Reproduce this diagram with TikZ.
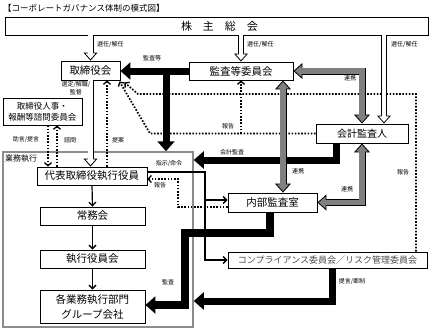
\documentclass[tikz,border=0pt]{standalone}
\usepackage{fontspec}
\setmainfont{Noto Sans CJK JP}
\usetikzlibrary{arrows.meta,calc}
\definecolor{hatch}{gray}{0.5}
\tikzset{
  htip/.tip={Triangle[width=14pt,length=8pt,fill=white,color=black,line width=0.8pt]},
  gtip/.tip={Triangle[width=16pt,length=9pt,fill=hatch,color=black,line width=0.8pt]},
  box/.style={draw, line width=0.9pt, fill=white, inner sep=0pt, align=center, font=\fontsize{10.5}{12}\selectfont},
  lbl/.style={font=\fontsize{6}{7.5}\selectfont, inner sep=0pt, align=center},
  hollowarr/.style={line width=6pt, draw=black, -htip,
     postaction={draw=white, line width=4.2pt, arrows=-, shorten >=5.5pt}},
  grayarr/.style={line width=7pt, draw=black, gtip-gtip,
     postaction={draw=hatch, line width=5.2pt, arrows=-, shorten >=6pt, shorten <=6pt}},
  blk/.style={line width=7pt, draw=black, -{Triangle[width=17pt,length=10pt]}},
  thinarr/.style={line width=1.2pt, -{Straight Barb[length=3.5pt,width=7pt,line width=1.3pt]}},
  dotarr/.style={line width=1.7pt, dash pattern=on 1.6pt off 1.6pt, -{Straight Barb[length=3pt,width=7pt,line width=1.3pt]}},
}
\begin{document}
\begin{tikzpicture}[x=1pt,y=-1pt]
\useasboundingbox (0,0) rectangle (440,330);
\node[anchor=west, font=\fontsize{8.5}{10}\selectfont, inner sep=0pt] (title) at (3,8) {【コーポレートガバナンス体制の模式図】};

% frame
\node[draw=black!45, line width=1.5pt, minimum width=190pt, minimum height=175pt, inner sep=0pt] (exec) at (98,239.5) {};
\node[anchor=west, font=\fontsize{8}{9}\selectfont, inner sep=0pt] (gyomu) at (5,159) {業務執行};

% boxes
\node[box, minimum width=423pt, minimum height=18pt, font=\fontsize{11}{12}\selectfont] (agm) at (216.5,26) {\hspace{6pt}株\hspace{1em}主\hspace{1em}総\hspace{1em}会};
\node[box, minimum width=59pt, minimum height=19pt] (bod) at (90.5,70.5) {取締役会};
\node[box, minimum width=104pt, minimum height=18pt] (ac) at (241,71) {監査等委員会};
\node[box, minimum width=79pt, minimum height=27pt, font=\fontsize{8.5}{11}\selectfont] (nc) at (42.5,111.5) {取締役人事・\\報酬等諮問委員会};
\node[box, minimum width=92pt, minimum height=19pt, font=\fontsize{10}{12}\selectfont] (aud) at (362,133.5) {会計監査人};
\node[box, minimum width=89pt, minimum height=19pt] (ia) at (272.5,202.5) {内部監査室};
\node[box, minimum width=110pt, minimum height=18pt] (ceo) at (92,176) {代表取締役執行役員};
\node[box, minimum width=105pt, minimum height=18pt] (jm) at (92.5,216) {常務会};
\node[box, minimum width=105pt, minimum height=18pt] (eo) at (92.5,259) {執行役員会};
\node[box, minimum width=105pt, minimum height=33pt, font=\fontsize{10.5}{15}\selectfont] (bu) at (92.5,306.5) {各業務執行部門\\グループ会社};
\node[box, minimum width=199pt, minimum height=16pt, font=\fontsize{9}{10}\selectfont, text=black!70] (cr) at (327.5,260) {コンプライアンス委員会／リスク管理委員会};

% coordinates
\coordinate (h3) at ([xshift=22pt]aud.north);
\coordinate (j1) at (166,71);
\coordinate (k1) at (336,160);
\coordinate (d1) at (150,133.5);
\coordinate (d2) at (416,94);
\coordinate (d3) at (138,94);
\coordinate (e1) at ([xshift=-1pt,yshift=-1pt]bod.south east);
\coordinate (e2) at ([xshift=4pt,yshift=-2pt]bod.south east);
\coordinate (t1) at (205,172);
\coordinate (t2) at ([yshift=2.5pt]ia.west);
\coordinate (r1) at ([yshift=-4.5pt]ia.west);
\coordinate (d4) at (178,179);
\coordinate (m1) at (185,233);
\coordinate (m2) at (185,305);
\coordinate (p1) at (332,301);

% dotted
\draw[dotarr] (aud.west) -- (d1) -- (e1);
\draw[dotarr] (aud.west -| ac.south) -- (ac.south);
\draw[dotarr] (cr.north -| d2) -- (d2) -- (d3) -- (e2);
\draw[dotarr] ([xshift=15pt]ceo.north) -- ([xshift=15pt]ceo.north |- bod.south);
\draw[dotarr] ([xshift=5.5pt]nc.south) -- ([xshift=5.5pt]nc.south |- ceo.north);
\draw[dotarr] ([xshift=14.5pt]nc.south |- ceo.north) -- ([xshift=14.5pt]nc.south);
\draw[dotarr] (r1) -| (d4) -- (d4 -| ceo.east);

% thin
\draw[thinarr] (ceo.east |- t1) -- (t1) |- (cr.west);
\draw[thinarr] (t1 |- t2) -- (t2);
\draw[thinarr] (ceo.south) -- (jm.north);
\draw[thinarr] (jm.south) -- (eo.north);
\draw[thinarr] (eo.south) -- (bu.north);

% hollow
\draw[hollowarr] (agm.south -| bod.north) -- (bod.north);
\draw[hollowarr] (agm.south -| ac.north) -- (ac.north);
\draw[hollowarr] (agm.south -| h3) -- (h3);
\draw[hollowarr] (bod.south) -- (bod.south |- ceo.north);

% black
\draw[blk] (ac.west) -- (ac.west -| bod.east);
\draw[blk] (j1) -- (j1 |- exec.north);
\draw[blk] (aud.south -| k1) -- (k1) -- (k1 -| exec.east);
\draw[blk, line width=8pt] ([xshift=-2.5pt]ia.south) |- (m1) -- (m2) -- (m2 -| bu.east);
\draw[blk] (cr.south -| p1) -- (p1) -- (p1 -| exec.east);

% gray
\draw[grayarr] (ac.east) -| (aud.north);
\draw[grayarr] ([xshift=42pt]ac.south) -- ([xshift=42pt]ac.south |- ia.north);
\draw[grayarr] (aud.south) |- (ia.east);

% labels
\node[lbl, anchor=west] (s1) at (97,45) {選任/解任};
\node[lbl, anchor=west] (s2) at (247,45) {選任/解任};
\node[lbl, anchor=west] (s3) at (391,45) {選任/解任};
\node[lbl] (l1) at (152,58) {監査等};
\node[lbl] (l2) at (350,78) {連携};
\node[lbl] (l3) at (76,88) {選定/解職/\\監督};
\node[lbl] (l4) at (228,126) {報告};
\node[lbl] (l5) at (232,152) {会計監査};
\node[lbl] (l6) at (298,171) {連携};
\node[lbl] (l7) at (347,189) {連携};
\node[lbl] (l8) at (403,172) {報告};
\node[lbl] (l9) at (26,140) {助言/提言};
\node[lbl] (l10) at (70,140) {諮問};
\node[lbl] (l11) at (118,140) {提案};
\node[lbl] (l12) at (169,164) {指示/命令};
\node[lbl] (l13) at (160,185) {報告};
\node[lbl] (l14) at (168,282) {監査};
\node[lbl] (l15) at (352,282) {提言/牽制};
\end{tikzpicture}
\end{document}
